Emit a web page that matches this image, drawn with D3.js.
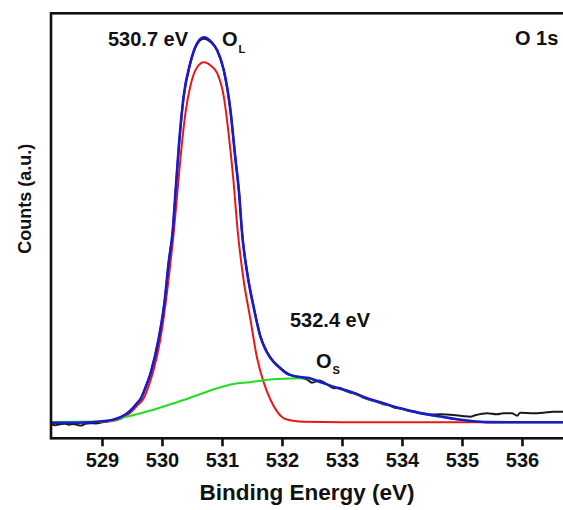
<!DOCTYPE html>
<html>
<head>
<meta charset="utf-8">
<script src="https://cdn.jsdelivr.net/npm/d3@7/dist/d3.min.js"></script>
<style>
  html, body { margin: 0; padding: 0; background: #fff; overflow: hidden; }
  svg { display: block; }
  text { font-family: Arial, "Liberation Sans", Helvetica, sans-serif; font-weight: bold; fill: #111; }
</style>
</head>
<body>
<svg id="chart" width="563" height="510"></svg>
<script>
// O 1s core-level spectrum: binding energy (eV) vs. counts (arbitrary units)

// Measured spectrum
const rawSpectrum = [
  [528.15, 3.35], [528.22, 3.1], [528.3, 3.3], [528.38, 3.45], [528.45, 3.2],
  [528.52, 3.35], [528.6, 3.1], [528.66, 3.0], [528.72, 3.4], [528.8, 3.55],
  [528.9, 3.5], [529.0, 3.75], [529.1, 4.0], [529.2, 4.4], [529.31, 4.95],
  [529.42, 5.8], [529.5, 6.8], [529.58, 8.1], [529.64, 9.1], [529.72, 11.7],
  [529.81, 15.3], [529.94, 23.0], [530.04, 31.7], [530.11, 41.1], [530.18, 48.9],
  [530.22, 56.7], [530.28, 68.4], [530.36, 80.2], [530.47, 88.1], [530.58, 92.6],
  [530.7, 94.0], [530.82, 93.1], [530.92, 91.2], [531.03, 86.5], [531.14, 77.2],
  [531.22, 66.3], [531.29, 56.9], [531.33, 49.1], [531.42, 39.0], [531.53, 30.8],
  [531.64, 24.0], [531.75, 20.3], [531.86, 18.1], [531.97, 16.6], [532.08, 15.4],
  [532.2, 14.6], [532.31, 14.3], [532.42, 13.8], [532.5, 13.1], [532.62, 13.6],
  [532.72, 13.0], [532.86, 11.8], [532.96, 11.9], [533.05, 11.2], [533.14, 10.7],
  [533.24, 10.5], [533.35, 9.6], [533.45, 9.1], [533.55, 8.7], [533.69, 8.0],
  [533.8, 7.7], [533.9, 7.1], [534.0, 7.0], [534.1, 6.5], [534.2, 6.3],
  [534.3, 5.9], [534.4, 5.75], [534.5, 5.6], [534.64, 5.65], [534.86, 5.48],
  [535.0, 5.25], [535.14, 5.08], [535.22, 5.41], [535.42, 5.88], [535.58, 5.65],
  [535.69, 5.88], [535.83, 5.88], [535.92, 5.32], [535.97, 6.02], [536.19, 5.88],
  [536.36, 6.02], [536.52, 6.26], [536.69, 6.26], [537.0, 6.3]
];

// Fitted envelope (sum of components)
const envelope = [
  [528.15, 3.67], [528.6, 3.67], [529.08, 4.14], [529.31, 5.0], [529.42, 5.9],
  [529.5, 6.9], [529.58, 8.2], [529.64, 9.2], [529.72, 11.8], [529.81, 15.36],
  [529.94, 23.13], [530.04, 31.84], [530.11, 41.25], [530.18, 49.01], [530.22, 56.85],
  [530.28, 68.61], [530.36, 80.38], [530.47, 88.24], [530.58, 92.8], [530.7, 94.35],
  [530.82, 93.3], [530.92, 91.3], [531.03, 86.66], [531.14, 77.25], [531.22, 66.26],
  [531.29, 56.85], [531.33, 49.01], [531.42, 38.89], [531.53, 30.66], [531.64, 23.91],
  [531.75, 20.19], [531.86, 17.95], [531.97, 16.5], [532.08, 15.2], [532.31, 14.4],
  [532.45, 14.2], [532.58, 13.55], [532.86, 12.14], [533.14, 10.96], [533.42, 9.41],
  [533.69, 8.24], [533.97, 7.06], [534.25, 6.1], [534.53, 5.35], [534.8, 4.75],
  [535.13, 4.1], [535.41, 3.8], [536.0, 3.76], [537.0, 3.76]
];

// Lattice oxygen component (O_L), peak at 530.7 eV
const latticeO = [
  [528.15, 3.85], [529.0, 3.85], [529.14, 4.0], [529.31, 4.6], [529.47, 6.0],
  [529.58, 7.6], [529.69, 9.3], [529.78, 12.4], [529.86, 16.07], [529.97, 23.13],
  [530.06, 31.76], [530.14, 41.18], [530.2, 49.01], [530.25, 56.85], [530.31, 66.26],
  [530.39, 76.47], [530.47, 82.73], [530.58, 87.2], [530.7, 88.47], [530.82, 87.6],
  [530.92, 85.9], [531.03, 80.38], [531.11, 71.76], [531.19, 60.78], [531.26, 49.01],
  [531.36, 37.25], [531.47, 28.31], [531.58, 19.2], [531.69, 13.36], [531.81, 9.01],
  [531.92, 6.26], [532.03, 4.71], [532.19, 4.14], [532.36, 3.9], [533.0, 3.8],
  [537.0, 3.8]
];

// Surface oxygen component (O_S), peak at 532.4 eV
const surfaceO = [
  [528.15, 3.85], [528.97, 3.95], [529.22, 4.3], [529.36, 4.94], [529.53, 5.48],
  [529.81, 6.54], [530.08, 7.72], [530.36, 9.01], [530.64, 10.42], [530.92, 11.76],
  [531.19, 12.78], [531.47, 13.2], [531.69, 13.65], [531.92, 13.95], [532.14, 14.08],
  [532.4, 14.12], [532.58, 13.5], [532.86, 12.1], [533.14, 10.9], [533.42, 9.35],
  [533.69, 8.2], [533.97, 7.0], [534.25, 6.05], [534.53, 5.3], [534.8, 4.7],
  [535.13, 4.05], [535.41, 3.8], [536.0, 3.78], [537.0, 3.78]
];

const energyTicks = [529, 530, 531, 532, 533, 534, 535, 536];

const svg = d3.select("#chart");

const plot = { left: 51, top: 13.3, bottom: 438.3 };
const eVmin = 528.15, eVmax = 537;
const pxPerEV = 60;

const x = d3.scaleLinear()
  .domain([eVmin, eVmax])
  .range([plot.left, plot.left + (eVmax - eVmin) * pxPerEV]);

const y = d3.scaleLinear()
  .domain([0, 100])
  .range([plot.bottom, plot.top]);

svg.append("defs").append("clipPath").attr("id", "plotClip")
  .append("rect")
  .attr("x", plot.left).attr("y", plot.top)
  .attr("width", x(eVmax) - plot.left)
  .attr("height", plot.bottom - plot.top);

const line = d3.line()
  .x(d => x(d[0]))
  .y(d => y(d[1]))
  .curve(d3.curveMonotoneX);

const curves = svg.append("g").attr("clip-path", "url(#plotClip)");

curves.append("path").datum(rawSpectrum)
  .attr("d", line).attr("fill", "none")
  .attr("stroke", "#1a1a1a").attr("stroke-width", 2).attr("stroke-linejoin", "round");

curves.append("path").datum(latticeO)
  .attr("d", line).attr("fill", "none")
  .attr("stroke", "#e81818").attr("stroke-width", 2);

curves.append("path").datum(surfaceO)
  .attr("d", line).attr("fill", "none")
  .attr("stroke", "#22dd22").attr("stroke-width", 2);

curves.append("path").datum(envelope)
  .attr("d", line).attr("fill", "none")
  .attr("stroke", "#1a1acc").attr("stroke-width", 2.6);

// Frame (right edge lies beyond the visible area)
svg.append("rect")
  .attr("x", plot.left).attr("y", plot.top)
  .attr("width", x(eVmax) - plot.left)
  .attr("height", plot.bottom - plot.top)
  .attr("fill", "none").attr("stroke", "#111").attr("stroke-width", 2.6);

// Bottom axis
const xAxis = d3.axisBottom(x)
  .tickValues(energyTicks)
  .tickFormat(d3.format("d"))
  .tickSize(8)
  .tickSizeOuter(0)
  .tickPadding(7);

const gx = svg.append("g")
  .attr("transform", `translate(0,${plot.bottom})`)
  .call(xAxis);
gx.select(".domain").remove();
gx.selectAll(".tick line").attr("stroke", "#111").attr("stroke-width", 2.6);
gx.selectAll(".tick text")
  .attr("font-size", 20)
  .attr("font-family", "Arial, 'Liberation Sans', sans-serif")
  .attr("font-weight", "bold")
  .attr("fill", "#111");

// Axis titles
svg.append("text")
  .attr("x", (plot.left + 563) / 2)
  .attr("y", 500)
  .attr("text-anchor", "middle")
  .attr("font-size", 22.5)
  .text("Binding Energy (eV)");

svg.append("text")
  .attr("transform", `translate(31,${(plot.top + plot.bottom) / 2 - 27}) rotate(-90)`)
  .attr("text-anchor", "middle")
  .attr("font-size", 18)
  .text("Counts (a.u.)");

// Peak annotations
svg.append("text")
  .attr("x", 108).attr("y", 46)
  .attr("font-size", 20)
  .text("530.7 eV");

const oL = svg.append("text").attr("x", 222).attr("y", 46).attr("font-size", 20);
oL.append("tspan").text("O");
oL.append("tspan").attr("font-size", 11).attr("dy", 7).attr("dx", 1).text("L");

svg.append("text")
  .attr("x", 515).attr("y", 45)
  .attr("font-size", 20)
  .text("O 1s");

svg.append("text")
  .attr("x", 290).attr("y", 327)
  .attr("font-size", 20)
  .text("532.4 eV");

const oS = svg.append("text").attr("x", 316).attr("y", 368).attr("font-size", 20);
oS.append("tspan").text("O");
oS.append("tspan").attr("font-size", 11).attr("dy", 6).attr("dx", 1).text("S");
</script>
</body>
</html>
